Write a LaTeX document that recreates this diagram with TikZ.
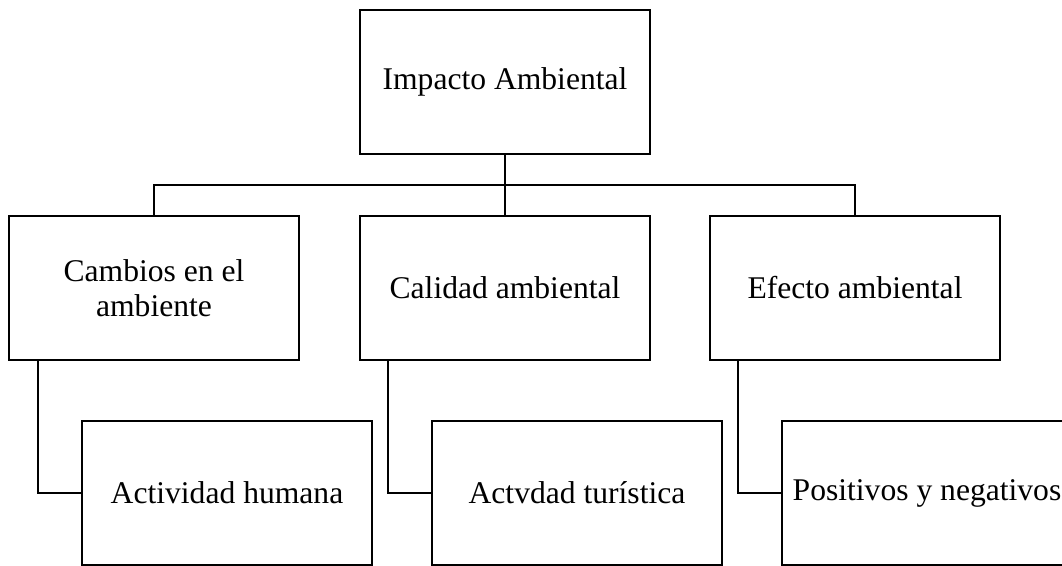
\documentclass[tikz,border=0pt]{standalone}
\usepackage{fontspec}
\setmainfont{Liberation Serif}
\begin{document}
\begin{tikzpicture}[x=1pt,y=-1pt,
  boxnode/.style={draw=black, line width=2pt, minimum width=290pt, minimum height=144pt,
    inner sep=0pt, align=center, font=\fontsize{31.6}{35}\selectfont},
  link/.style={draw=black, line width=2pt}]
\useasboundingbox (0,0) rectangle (1062,565);
\clip (0,0) rectangle (1062,565);
\node[boxnode] (top) at (505,82) {Impacto Ambiental};
\node[boxnode] (m1) at (154,288) {Cambios en el\\ambiente};
\node[boxnode] (m2) at (505,288) {Calidad ambiental};
\node[boxnode] (m3) at (855,288) {Efecto ambiental};
\node[boxnode] (b1) at (227,493) {Actividad humana};
\node[boxnode] (b2) at (577,493) {Actvdad turística};
\node[boxnode] (b3) at (927,493) {Positivos y negativos};
\coordinate (bus) at (505,185);
\draw[link] (top.south) -- (bus) -- (m2.north);
\draw[link] (m1.north) |- (bus) -| (m3.north);
\draw[link] ([xshift=30pt]m1.south west) |- (b1.west);
\draw[link] ([xshift=29pt]m2.south west) |- (b2.west);
\draw[link] ([xshift=29pt]m3.south west) |- (b3.west);
\end{tikzpicture}
\end{document}
